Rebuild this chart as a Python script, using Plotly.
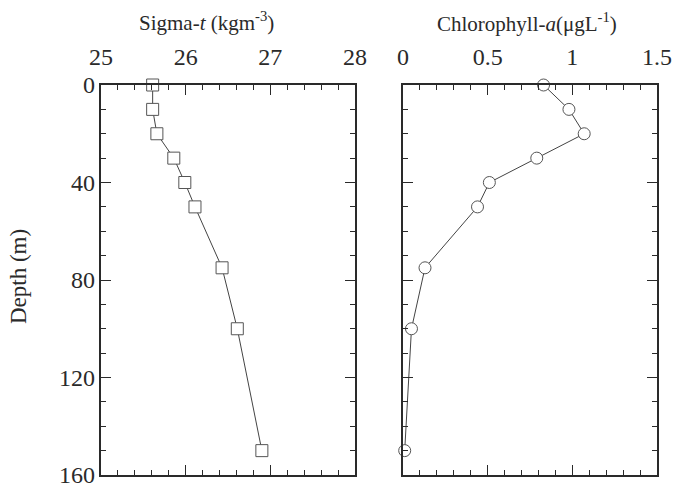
import plotly.graph_objects as go

depth = [0, 10, 20, 30, 40, 50, 75, 100, 150]
sigma_t = [25.61, 25.61, 25.66, 25.86, 25.99, 26.11, 26.43, 26.61, 26.90]
chl_a = [0.83, 0.98, 1.07, 0.79, 0.51, 0.44, 0.13, 0.05, 0.01]

sigma_ticks = [25, 26, 27, 28]
chl_ticks = [0, 0.5, 1, 1.5]
chl_labels = ["0", "0.5", "1", "1.5"]
depth_ticks = [0, 40, 80, 120, 160]
depth_range = [160, 0]

FONT = "Liberation Serif"
INK = "#2a2a2a"
LINE = "#444444"

fig = go.Figure()
fig.add_trace(go.Scatter(
    x=sigma_t, y=depth, mode="lines+markers", xaxis="x", yaxis="y",
    line=dict(color=LINE, width=1),
    marker=dict(symbol="square", size=12, color="white", line=dict(color="#555555", width=1)),
    cliponaxis=False, showlegend=False))
fig.add_trace(go.Scatter(
    x=chl_a, y=depth, mode="lines+markers", xaxis="x2", yaxis="y2",
    line=dict(color=LINE, width=1),
    marker=dict(symbol="circle", size=12, color="white", line=dict(color="#555555", width=1)),
    cliponaxis=False, showlegend=False))
# invisible copy bound to the label-only depth axis so that axis gets drawn
fig.add_trace(go.Scatter(
    x=sigma_t, y=depth, mode="markers", xaxis="x", yaxis="y3",
    marker=dict(opacity=0), hoverinfo="skip", showlegend=False))

common_ax = dict(showline=True, linewidth=2, linecolor=INK, mirror="ticks",
                 ticks="inside", ticklen=10, tickwidth=1, tickcolor=INK,
                 showgrid=False, zeroline=False, automargin=False,
                 ticklabeloverflow="allow",
                 tickfont=dict(family=FONT, size=24, color=INK))
minor_x = dict(ticks="inside", ticklen=5, tickcolor=INK, showgrid=False)

yd = [1 - 475 / 488, 1 - 85 / 488]

fig.update_layout(
    width=673, height=488, autosize=False,
    margin=dict(l=0, r=0, t=0, b=0, pad=0, autoexpand=False),
    paper_bgcolor="white", plot_bgcolor="white",
    font=dict(family=FONT, color=INK),
    xaxis=dict(common_ax, domain=[101 / 673, 355 / 673], range=[25, 28], side="top",
               tickvals=sigma_ticks, ticktext=[str(v) for v in sigma_ticks],
               minor=dict(minor_x, dtick=0.2), ticklabelstandoff=8,
               anchor="y"),
    yaxis=dict(common_ax, domain=yd, range=depth_range, showticklabels=False,
               tickvals=depth_ticks,
               minor=dict(minor_x, dtick=10),
               anchor="x"),
    # label-only depth axis (free-positioned so the corner label "0" is kept)
    yaxis3=dict(overlaying="y", anchor="free", position=101 / 673, side="left",
                range=depth_range, tickvals=depth_ticks,
                ticktext=[str(v) for v in depth_ticks],
                showline=False, ticks="", showgrid=False, zeroline=False,
                automargin=False, ticklabeloverflow="allow", ticklabelstandoff=6,
                tickfont=dict(family=FONT, size=24, color=INK)),
    xaxis2=dict(common_ax, domain=[403 / 673, 657 / 673], range=[0, 1.5], side="top",
                tickvals=chl_ticks, ticktext=chl_labels,
                minor=dict(minor_x, dtick=0.1), ticklabelstandoff=8,
                anchor="y2"),
    yaxis2=dict(common_ax, domain=yd, range=depth_range, showticklabels=False,
                tickvals=depth_ticks,
                minor=dict(minor_x, dtick=10),
                anchor="x2"),
    annotations=[
        dict(text="Sigma-<i>t</i> (kgm<sup>-3</sup>)", x=206 / 673, y=1 - 22 / 488,
             xref="paper", yref="paper", showarrow=False,
             xanchor="center", yanchor="middle",
             font=dict(family=FONT, size=21, color=INK)),
        dict(text="Chlorophyll-<i>a</i>(μgL<sup>-1</sup>)", x=527 / 673, y=1 - 23 / 488,
             xref="paper", yref="paper", showarrow=False,
             xanchor="center", yanchor="middle",
             font=dict(family=FONT, size=21, color=INK)),
        dict(text="Depth (m)", x=18 / 673, y=1 - 277 / 488, textangle=-90,
             xref="paper", yref="paper", showarrow=False,
             xanchor="center", yanchor="middle",
             font=dict(family=FONT, size=23, color=INK)),
    ],
)

fig.write_html("out.html", post_script="document.body.style.margin='0';")
